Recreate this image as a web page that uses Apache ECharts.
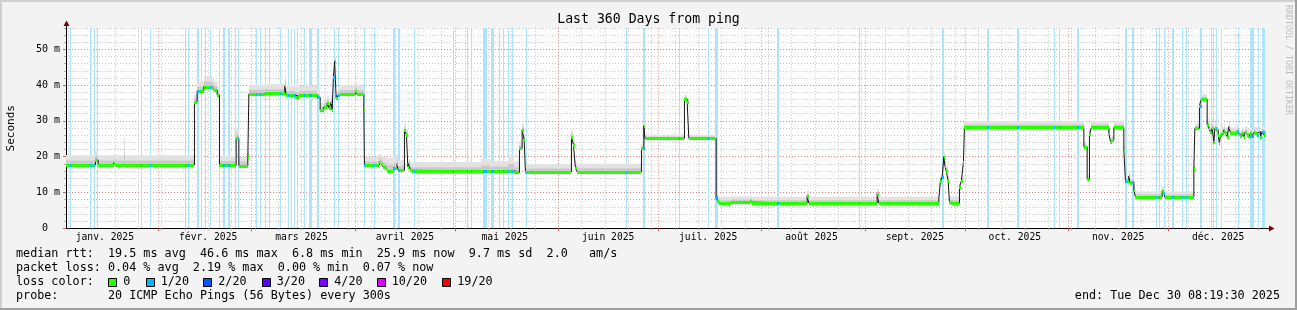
<!DOCTYPE html>
<html><head><meta charset="utf-8">
<script src="https://cdn.jsdelivr.net/npm/echarts@6/dist/echarts.min.js"></script>
<style>html,body{margin:0;padding:0;background:#f3f3f3;}#c{width:1297px;height:310px;}</style>
</head><body><div id="c"></div>
<script>
// ---------------- DATA ----------------
const chartTitle = 'Last 360 Days from ping';
const monthNames = ['janv.','févr.','mars','avril','mai','juin','juil.','août','sept.','oct.','nov.','déc.'];
const yearLabel = '2025';
const yMaxMs = 56;

// median RTT breakpoints: day of year 2025 (0 = Jan 1 00:00) -> median (ms), value holds until next breakpoint
const medianDay = [
  3.35, 12.18, 12.99, 17.7, 18.09, 20.64, 20.94, 41.88, 42.69, 44.7,
  47.19, 47.7, 48.69, 49.38, 54.39, 55.2, 57.9, 58.2, 63.09, 69.0,
  69.39, 72.18, 73.29, 78.69, 79.59, 80.7, 81.69, 82.29, 82.89, 83.19,
  83.58, 83.94, 84.39, 84.99, 85.59, 90.18, 90.69, 92.7, 92.88, 97.38,
  97.89, 98.34, 99.18, 99.69, 101.7, 102.69, 102.99, 104.88, 105.48, 105.9,
  106.2, 106.68, 107.19, 127.8, 130.5, 135.9, 137.7, 139.38, 140.19, 140.79,
  141.18, 154.98, 155.58, 156.18, 156.69, 175.98, 176.7, 177.0, 188.88, 189.69,
  190.2, 198.39, 198.78, 199.2, 202.89, 208.68, 209.19, 225.69, 226.2, 246.69,
  247.2, 265.2, 265.68, 266.19, 266.7, 267.0, 267.39, 267.99, 268.38, 268.89,
  271.38, 271.98, 272.58, 272.88, 308.7, 309.69, 310.38, 310.98, 316.2, 316.68,
  317.19, 317.7, 320.7, 321.18, 322.2, 322.59, 323.1, 323.7, 324.18, 332.19,
  332.7, 333.0, 341.7, 342.0, 343.38, 343.98, 345.69, 346.2, 346.68, 347.19,
  347.7, 348.0, 348.48, 348.99, 349.38, 349.68, 350.19, 350.7, 351.18, 351.69,
  352.2, 352.68, 354.69, 355.2, 355.68, 356.19, 356.7, 357.18, 357.69, 358.2,
  358.68, 359.19, 359.7, 360.18, 360.69, 361.2, 361.68, 362.19, 362.7, 363.35
];
const medianMs = [
  17.7, 19.0, 17.7, 18.3, 17.7, 17.7, 17.7, 35.4, 38.4, 39.6,
  39.1, 38.6, 37.2, 17.6, 25.1, 17.5, 20.0, 37.5, 37.7, 39.7,
  37.2, 36.8, 37.2, 36.6, 33.0, 34.0, 35.0, 33.5, 35.2, 33.0,
  42.3, 46.6, 36.3, 37.2, 37.5, 38.4, 37.5, 33.0, 17.7, 18.6,
  17.9, 17.2, 16.8, 16.1, 16.8, 17.9, 16.2, 27.5, 26.1, 17.2,
  18.0, 16.2, 15.9, 16.0, 16.0, 16.1, 15.6, 22.3, 27.5, 24.7,
  15.8, 25.6, 23.3, 16.8, 15.8, 22.3, 28.6, 25.1, 36.1, 35.4,
  25.1, 8.8, 7.6, 7.0, 7.3, 7.5, 7.0, 9.1, 7.0, 9.6,
  7.0, 8.4, 13.3, 14.4, 20.0, 17.5, 16.1, 13.3, 7.3, 7.0,
  11.5, 13.3, 18.6, 28.2, 22.8, 13.7, 26.3, 28.2, 26.6, 24.2,
  24.6, 28.2, 21.9, 13.3, 14.6, 12.6, 13.0, 10.7, 8.7, 10.5,
  9.9, 8.7, 16.7, 27.9, 34.2, 36.1, 28.9, 27.9, 26.9, 27.9,
  24.2, 27.9, 27.5, 26.1, 23.7, 26.1, 26.6, 27.5, 26.6, 25.6,
  28.4, 26.6, 27.2, 26.3, 25.8, 26.6, 25.6, 27.0, 26.1, 25.4,
  26.6, 25.9, 26.8, 26.6, 26.1, 27.0, 25.6, 27.0, 26.1, 26.1
];
// smoke spread above / below the median (ms), per breakpoint
const smokeUpMs = [
  2.7, 2.6, 2.7, 2.4, 2.7, 7.9, 2.7, 2.0, 2.6, 3.0,
  2.8, 2.6, 2.4, 2.6, 2.4, 2.4, 1.5, 2.6, 2.6, 3.2,
  2.6, 2.8, 2.6, 2.4, 2.0, 2.0, 2.0, 2.0, 2.0, 2.0,
  2.0, 1.2, 2.0, 2.4, 2.4, 2.2, 2.4, 1.5, 2.2, 2.2,
  2.4, 2.8, 3.2, 3.6, 3.2, 2.4, 2.8, 1.6, 1.6, 1.6,
  1.6, 2.2, 2.6, 3.4, 2.8, 4.2, 3.0, 1.6, 1.8, 1.6,
  2.0, 1.8, 1.6, 1.8, 2.2, 1.2, 1.0, 1.0, 1.2, 1.0,
  1.0, 1.2, 1.8, 1.8, 1.6, 1.6, 1.8, 1.4, 1.8, 1.4,
  1.8, 1.2, 1.2, 1.2, 1.2, 1.2, 1.2, 1.2, 1.6, 1.8,
  1.0, 1.0, 1.0, 1.8, 1.2, 1.2, 1.2, 1.8, 1.4, 1.2,
  1.2, 1.8, 1.2, 1.2, 1.2, 1.2, 1.2, 1.2, 1.6, 1.2,
  1.2, 1.6, 1.2, 1.4, 1.4, 1.4, 1.6, 1.6, 1.6, 1.6,
  1.6, 1.6, 1.6, 1.6, 1.6, 1.6, 1.6, 1.6, 1.6, 1.6,
  1.6, 1.6, 1.6, 1.6, 1.6, 1.6, 1.6, 1.6, 1.6, 1.6,
  1.6, 1.6, 1.6, 1.6, 1.6, 1.6, 1.6, 1.6, 1.6, 1.6
];
const smokeDownMs = [
  0.6, 0.6, 0.6, 0.6, 0.6, 0.6, 0.6, 0.8, 0.8, 0.8,
  0.8, 0.8, 0.8, 0.6, 0.6, 0.6, 0.5, 0.7, 0.7, 0.7,
  0.7, 0.7, 0.7, 0.7, 0.7, 0.7, 0.7, 0.7, 0.7, 0.7,
  0.7, 0.6, 0.7, 0.7, 0.7, 0.7, 0.7, 0.5, 0.6, 0.6,
  0.6, 0.6, 0.6, 0.6, 0.6, 0.6, 0.6, 0.6, 0.6, 0.6,
  0.6, 0.6, 0.6, 0.6, 0.6, 0.6, 0.6, 0.6, 0.6, 0.6,
  0.6, 0.6, 0.6, 0.6, 0.6, 0.5, 0.5, 0.5, 0.5, 0.5,
  0.5, 0.6, 0.9, 0.9, 0.9, 0.9, 0.9, 0.6, 0.9, 0.6,
  0.9, 0.6, 0.6, 0.6, 0.6, 0.6, 0.6, 0.6, 0.9, 0.9,
  0.5, 0.5, 0.5, 1.0, 0.6, 0.6, 0.6, 0.8, 0.6, 0.6,
  0.6, 0.8, 0.6, 0.6, 0.6, 0.6, 0.6, 0.6, 0.8, 0.6,
  0.6, 0.8, 0.6, 0.6, 0.6, 0.6, 0.8, 0.8, 0.8, 0.8,
  0.8, 0.8, 0.8, 0.8, 0.8, 0.8, 0.8, 0.8, 0.8, 0.8,
  0.8, 0.8, 0.8, 0.8, 0.8, 0.8, 0.8, 0.8, 0.8, 0.8,
  0.8, 0.8, 0.8, 0.8, 0.8, 0.8, 0.8, 0.8, 0.8, 0.8
];
// time slots with 1/20 packet loss: from / to (day of year 2025)
const lossFromDay = [
  4.59, 10.65, 11.79, 12.75, 25.74, 28.68, 38.94, 39.93, 42.78, 43.74,
  44.94, 46.53, 49.29, 50.34, 51.9, 54.03, 54.99, 60.33, 61.59, 63.09,
  64.38, 67.53, 69.84, 70.83, 71.73, 72.75, 74.73, 76.23, 78.69, 83.73,
  84.84, 92.73, 95.73, 101.4, 102.84, 107.73, 119.34, 123.75, 124.74, 128.4,
  130.74, 133.35, 134.55, 135.84, 137.25, 141.24, 171.24, 176.34, 187.23, 195.84,
  198.15, 216.69, 241.35, 266.19, 279.69, 288.6, 299.73, 301.23, 306.69, 321.09,
  323.1, 330.24, 331.23, 332.73, 335.19, 338.25, 339.24, 343.59, 346.74, 347.55,
  348.24, 349.74, 354.84, 358.59, 360.84, 362.13
];
const lossToDay = [
  4.89, 10.95, 12.09, 13.05, 26.04, 28.98, 39.24, 40.23, 43.38, 44.04,
  45.24, 46.83, 49.59, 50.94, 52.5, 54.33, 55.29, 60.63, 61.89, 63.39,
  64.68, 67.83, 70.14, 71.13, 72.03, 73.05, 75.03, 77.13, 79.29, 84.03,
  85.14, 93.03, 96.03, 102.0, 103.44, 108.03, 119.64, 124.05, 125.04, 129.6,
  131.64, 133.65, 134.85, 136.14, 137.55, 141.54, 171.54, 176.94, 187.53, 196.14,
  199.05, 217.29, 241.65, 266.79, 280.29, 289.2, 300.03, 301.53, 307.29, 321.69,
  323.7, 330.54, 331.53, 333.03, 335.79, 338.55, 339.54, 344.19, 347.04, 347.85,
  348.54, 350.04, 355.14, 359.79, 361.14, 363.03
];
const statsLines = [
  'median rtt:  19.5 ms avg  46.6 ms max  6.8 ms min  25.9 ms now  9.7 ms sd  2.0   am/s',
  'packet loss: 0.04 % avg  2.19 % max  0.00 % min  0.07 % now'
];
const lossLegendLabels = ['0', '1/20', '2/20', '3/20', '4/20', '10/20', '19/20'];
const lossLegendColors = ['#26ff00', '#00b8ff', '#0059ff', '#5e00ff', '#7e00ff', '#dd00ff', '#ff0000'];
const probeLine = 'probe:       20 ICMP Echo Pings (56 Bytes) every 300s';
const endLine = 'end: Tue Dec 30 08:19:30 2025';
const watermark = 'RRDTOOL / TOBI OETIKER';

// ---------------- BUILD ----------------
const FONT = '"DejaVu Sans Mono", monospace';
const T0 = new Date(2025, 0, 1).getTime();
const DAY = 86400000;
const toTime = d => T0 + d * DAY;
const START = new Date(2025, 0, 4, 8, 19, 30).getTime();
const END = new Date(2025, 11, 30, 8, 19, 30).getTime();

const weekLines = [];
for (let d = new Date(2025, 0, 5); d.getTime() <= END; d = new Date(d.getFullYear(), d.getMonth(), d.getDate() + 7)) weekLines.push(d.getTime());
const monthStarts = [];
for (let m = 1; m < 12; m++) monthStarts.push(new Date(2025, m, 1).getTime());
const monthMids = [];
for (let m = 0; m < 12; m++) monthMids.push(new Date(2025, m, 16).getTime());

function medianAt(day) {
  let v = medianMs[0];
  for (let i = 0; i < medianDay.length; i++) { if (medianDay[i] <= day) v = medianMs[i]; else break; }
  return v;
}
const lineData = medianDay.map((d, i) => [toTime(d), medianMs[i]]);
const segData = [];
for (let i = 0; i < medianDay.length - 1; i++) {
  segData.push([toTime(medianDay[i]), toTime(medianDay[i + 1]), medianMs[i], smokeUpMs[i], smokeDownMs[i]]);
}
const lossData = lossFromDay.map((d, i) => [toTime(d), toTime(lossToDay[i]), medianAt((d + lossToDay[i]) / 2)]);

const snapX = (api, t0, t1, y) => {
  const a = api.coord([t0, y]), b = api.coord([t1, y]);
  const x0 = Math.round(a[0]);
  return [x0, Math.max(x0 + 1, Math.round(b[0]))];
};

const chart = echarts.init(document.getElementById('c'), null, { renderer: 'canvas', width: 1297, height: 310 });

const graphics = [
  { type: 'rect', shape: { x: 0, y: 0, width: 1297, height: 2 }, style: { fill: '#cfcfcf' }, silent: true },
  { type: 'rect', shape: { x: 0, y: 0, width: 2, height: 310 }, style: { fill: '#cfcfcf' }, silent: true },
  { type: 'rect', shape: { x: 0, y: 308, width: 1297, height: 2 }, style: { fill: '#9e9e9e' }, silent: true },
  { type: 'rect', shape: { x: 1295, y: 0, width: 2, height: 310 }, style: { fill: '#9e9e9e' }, silent: true },
  { type: 'line', shape: { x1: 66.5, y1: 28, x2: 66.5, y2: 23 }, style: { stroke: '#000', lineWidth: 1 }, silent: true },
  { type: 'polygon', shape: { points: [[66.5, 20.5], [63.5, 26], [69.5, 26]] }, style: { fill: '#7f0000' }, silent: true },
  { type: 'line', shape: { x1: 1266, y1: 228.5, x2: 1270, y2: 228.5 }, style: { stroke: '#000', lineWidth: 1 }, silent: true },
  { type: 'polygon', shape: { points: [[1274.5, 228.5], [1269, 225.5], [1269, 231.5]] }, style: { fill: '#7f0000' }, silent: true },
  { type: 'text', x: 10.7, y: 128.3, rotation: Math.PI / 2, style: { text: 'Seconds', font: '11px ' + FONT, fill: '#000', textAlign: 'center', textVerticalAlign: 'middle' }, silent: true },
  { type: 'text', x: 1288, y: 5, rotation: -Math.PI / 2, style: { text: watermark, font: '8.3px ' + FONT, fill: '#bdbdbd', textAlign: 'left', textVerticalAlign: 'middle' }, silent: true },
  { type: 'text', x: 16, y: 254.3, style: { text: statsLines[0], font: '11.75px ' + FONT, fill: '#000', textVerticalAlign: 'middle' }, silent: true },
  { type: 'text', x: 16, y: 268.3, style: { text: statsLines[1], font: '11.75px ' + FONT, fill: '#000', textVerticalAlign: 'middle' }, silent: true },
  { type: 'text', x: 16, y: 282.3, style: { text: 'loss color:', font: '11.75px ' + FONT, fill: '#000', textVerticalAlign: 'middle' }, silent: true },
  { type: 'text', x: 16, y: 296.3, style: { text: probeLine, font: '11.75px ' + FONT, fill: '#000', textVerticalAlign: 'middle' }, silent: true },
  { type: 'text', x: 1280, y: 296.3, style: { text: endLine, font: '11.75px ' + FONT, fill: '#000', textAlign: 'right', textVerticalAlign: 'middle' }, silent: true }
];
const sqX = [108.3, 145.7, 203.3, 261.7, 319.3, 376.7, 442.3];
lossLegendLabels.forEach((lab, i) => {
  graphics.push({ type: 'rect', shape: { x: Math.round(sqX[i]) + 0.5, y: 278.5, width: 8, height: 8 }, style: { fill: lossLegendColors[i], stroke: '#000', lineWidth: 1 }, silent: true });
  graphics.push({ type: 'text', x: sqX[i] + 15, y: 282.3, style: { text: lab, font: '11.75px ' + FONT, fill: '#000', textVerticalAlign: 'middle' }, silent: true });
});

const option = {
  animation: false,
  backgroundColor: '#f3f3f3',
  title: { text: chartTitle, left: 'center', top: 12.7, padding: 0, textStyle: { fontFamily: FONT, fontSize: 13.2, fontWeight: 'normal', color: '#000' } },
  grid: { left: 66, right: 31, top: 27.8, bottom: 81.7, show: true, backgroundColor: '#ffffff', borderWidth: 0, outerBoundsMode: 'none' },
  xAxis: [
    { type: 'value', min: START, max: END, z: 0, scale: true, position: 'bottom', offset: 0,
      axisLine: { show: false, onZero: false }, axisLabel: { show: false },
      axisTick: { show: true, customValues: weekLines, length: 2, lineStyle: { color: '#b0b0b0' } },
      splitLine: { show: true, lineStyle: { color: 'rgba(143,143,143,0.5)', type: [1, 2], width: 1 } } },
    { type: 'value', min: START, max: END, z: 0, scale: true, position: 'bottom', offset: 0,
      axisLine: { show: true, onZero: false, lineStyle: { color: '#000', width: 1 } },
      axisTick: { show: true, customValues: monthStarts, length: 3, lineStyle: { color: '#d06060' } },
      axisLabel: { show: true, customValues: monthMids, margin: 4, fontFamily: FONT, fontSize: 9.7, color: '#000',
        formatter: v => monthNames[new Date(v).getMonth()] + ' ' + yearLabel },
      splitLine: { show: true, lineStyle: { color: 'rgba(222,80,80,0.6)', type: [1, 2], width: 1 } } }
  ],
  yAxis: [
    { type: 'value', min: 0, max: yMaxMs, interval: 2, z: 0, position: 'left', offset: 0,
      axisLine: { show: false, onZero: false }, axisLabel: { show: false },
      axisTick: { show: true, length: 2, lineStyle: { color: '#b0b0b0' } },
      splitLine: { show: true, lineStyle: { color: 'rgba(143,143,143,0.5)', type: [1, 2], width: 1 } } },
    { type: 'value', min: 0, max: yMaxMs, interval: 10, z: 0, position: 'left', offset: 0,
      axisLine: { show: true, onZero: false, lineStyle: { color: '#000', width: 1 } },
      axisTick: { show: true, length: 3, lineStyle: { color: '#d06060' } },
      axisLabel: { show: true, margin: 6, fontFamily: FONT, fontSize: 10, color: '#000', showMaxLabel: false,
        formatter: v => (v % 10 !== 0 ? '' : (v === 0 ? '0  ' : v + ' m')) },
      splitLine: { show: true, showMinLine: false, showMaxLine: false, lineStyle: { color: 'rgba(222,80,80,0.6)', type: [1, 2], width: 1 } } }
  ],
  series: [
    { name: 'loss', type: 'custom', xAxisIndex: 1, yAxisIndex: 1, z: 2, clip: true,
      encode: { x: [0, 1], y: 2 }, data: lossData,
      renderItem: (params, api) => {
        const xs = snapX(api, api.value(0), api.value(1), 0);
        const top = api.coord([api.value(0), yMaxMs])[1];
        const bot = api.coord([api.value(0), 0])[1];
        return { type: 'rect', shape: { x: xs[0], y: top, width: xs[1] - xs[0], height: bot - top }, style: { fill: '#aee4fa' } };
      } },
    { name: 'smoke', type: 'custom', xAxisIndex: 1, yAxisIndex: 1, z: 3, clip: true,
      encode: { x: [0, 1], y: 2 }, data: segData,
      renderItem: (params, api) => {
        const t0 = api.value(0), t1 = api.value(1), m = api.value(2), up = api.value(3), dn = api.value(4);
        const xs = snapX(api, t0, t1, m);
        const yT = api.coord([t0, m + up])[1], yB = api.coord([t0, m - dn])[1];
        const yiT = api.coord([t0, m + up * 0.45])[1], yiB = api.coord([t0, m - dn * 0.5])[1];
        return { type: 'group', children: [
          { type: 'rect', shape: { x: xs[0], y: yT, width: xs[1] - xs[0], height: yB - yT }, style: { fill: '#e2e2e2' } },
          { type: 'rect', shape: { x: xs[0], y: yiT, width: xs[1] - xs[0], height: yiB - yiT }, style: { fill: '#cacaca' } }
        ] };
      } },
    { name: 'median', type: 'line', xAxisIndex: 1, yAxisIndex: 1, z: 4, step: 'end', symbol: 'none',
      data: lineData, lineStyle: { color: '#151515', width: 1 } },
    { name: 'median 0 loss', type: 'custom', xAxisIndex: 1, yAxisIndex: 1, z: 5, clip: true,
      encode: { x: [0, 1], y: 2 }, data: segData,
      renderItem: (params, api) => {
        const xs = snapX(api, api.value(0), api.value(1), api.value(2));
        const y = Math.round(api.coord([api.value(0), api.value(2)])[1]) + 0.5;
        return { type: 'line', shape: { x1: xs[0], y1: y, x2: xs[1], y2: y }, style: { stroke: '#26ff00', lineWidth: 3 } };
      } },
    { name: 'median 1/20 loss', type: 'custom', xAxisIndex: 1, yAxisIndex: 1, z: 6, clip: true,
      encode: { x: [0, 1], y: 2 }, data: lossData,
      renderItem: (params, api) => {
        const xs = snapX(api, api.value(0), api.value(1), api.value(2));
        const y = Math.round(api.coord([api.value(0), api.value(2)])[1]) + 0.5;
        return { type: 'line', shape: { x1: xs[0], y1: y, x2: xs[1], y2: y }, style: { stroke: '#00b8ff', lineWidth: 3 } };
      } }
  ],
  graphic: { elements: graphics }
};
chart.setOption(option);
</script>
</body></html>
